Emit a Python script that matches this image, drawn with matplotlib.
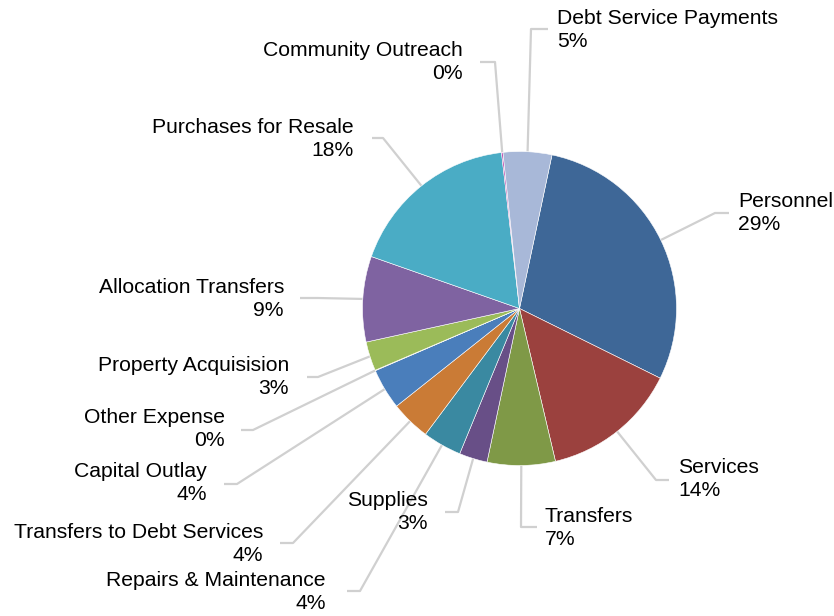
import numpy as np
import matplotlib.pyplot as plt

# spending by category, percent of total
categories = ['Personnel', 'Services', 'Transfers', 'Supplies', 'Repairs & Maintenance',
              'Transfers to Debt Services', 'Capital Outlay', 'Other Expense',
              'Property Acquisision', 'Allocation Transfers', 'Purchases for Resale',
              'Community Outreach', 'Debt Service Payments']
shares = [29.0, 14.0, 7.0, 2.9, 4.0, 4.1, 4.2, 0.05, 3.0, 8.8, 17.8, 0.15, 5.0]

colors = ['#3e6797', '#9b413e', '#7f9947', '#684f87', '#3a89a1', '#ca7b36', '#4a7ebb',
          '#c0504d', '#9bbb59', '#7f63a1', '#4aacc5', '#b83ea8', '#a8b8d8']

# label layout in pixels (x of text edge, y of text block centre, side, elbow, stub end)
label_layout = [
    (738, 213, 'left', (715, 213), 729),
    (678, 479, 'left', (656, 480), 669),
    (545, 528, 'left', (521, 527), 537),
    (428, 512, 'right', (458, 512), 445),
    (326, 592, 'right', (360, 591), 347),
    (263, 544, 'right', (293, 543), 280),
    (207, 483, 'right', (237, 484), 224),
    (225, 429, 'right', (253, 430), 241),
    (289, 377, 'right', (318, 377), 307),
    (284, 299, 'right', (318, 298), 300),
    (354, 139, 'right', (383, 138), 372),
    (463, 62, 'right', (495, 62), 480),
    (557, 30, 'left', (531, 29), 548),
]

W, H = 834, 616
cx, cy, R = 519.5, 308.5, 157
start = 78.05

plt.rcParams['font.family'] = ['Liberation Sans', 'DejaVu Sans']

fig = plt.figure(figsize=(W / 100, H / 100), dpi=100)
ax = fig.add_axes([0, 0, 1, 1])

wedges, _ = ax.pie(shares, colors=colors, startangle=start, counterclock=False,
                   center=(cx, H - cy), radius=R,
                   wedgeprops=dict(edgecolor='white', linewidth=0.4))

ax.set_xlim(0, W)
ax.set_ylim(0, H)
ax.set_aspect('equal')
ax.axis('off')

total = sum(shares)
for w, name, v, (tx, ty, side, elbow, stub) in zip(wedges, categories, shares, label_layout):
    mid = np.deg2rad((w.theta1 + w.theta2) / 2)
    px = cx + R * np.cos(mid)
    py = (H - cy) + R * np.sin(mid)
    ex, ey = elbow
    ax.plot([px, ex, stub], [py, H - ey, H - ey], color='#d0d0d0', lw=1.6,
            solid_capstyle='butt', zorder=0)
    ax.text(tx, H - ty, f'{name}\n{round(v / total * 100):.0f}%', ha=side, va='center',
            multialignment=side, fontsize=15.2, linespacing=1.22, color='black')

fig.savefig('out.png', dpi=100)
